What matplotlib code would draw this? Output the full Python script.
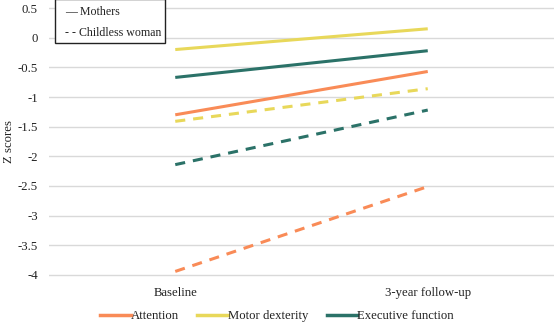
import matplotlib
matplotlib.use("Agg")
import matplotlib.pyplot as plt
from matplotlib.lines import Line2D
from matplotlib.patches import Rectangle

plt.rcParams['font.family'] = ['Liberation Serif', 'DejaVu Serif']

timepoints = ["Baseline", "3-year follow-up"]
domains = ["Attention", "Motor dexterity", "Executive function"]
colors = ["#F98B57", "#E8D85A", "#2B7268"]

mothers = {
    "Attention": [-1.30, -0.57],
    "Motor dexterity": [-0.20, 0.15],
    "Executive function": [-0.67, -0.22],
}
childless = {
    "Attention": [-3.94, -2.51],
    "Motor dexterity": [-1.41, -0.86],
    "Executive function": [-2.14, -1.22],
}

yticks = [0.5, 0, -0.5, -1, -1.5, -2, -2.5, -3, -3.5, -4]
ytick_labels = ["0.5", "0", "-0.5", "-1", "-1.5", "-2", "-2.5", "-3", "-3.5", "-4"]

FS = 9.2
TXT = '#222222'

fig = plt.figure(figsize=(5.54, 3.24), dpi=100)
ax = fig.add_axes([49 / 554, 1 - 277 / 324, 1 - 49 / 554, (277 - 6) / 324])

x = list(range(len(timepoints)))
for name, c in zip(domains, colors):
    ax.plot(x, childless[name], color=c, lw=2.2, dashes=(3.3, 2.6),
            solid_capstyle='butt', dash_capstyle='butt', zorder=3)
    ax.plot(x, mothers[name], color=c, lw=2.2, solid_capstyle='butt', zorder=4)

ax.set_xlim(-0.5, 1.5)
ax.set_ylim(-4.034, 0.534)
ax.set_yticks(yticks)
ax.set_yticklabels(ytick_labels)
ax.set_xticks(x)
ax.set_xticklabels(timepoints)
ax.tick_params(axis='both', length=0, labelsize=FS, colors=TXT)
ax.tick_params(axis='y', pad=8)
ax.tick_params(axis='x', pad=7)
ax.grid(axis='y', color='#d9d9d9', lw=1)
ax.set_axisbelow(True)
for s in ax.spines.values():
    s.set_visible(False)
ax.set_ylabel("Z scores", fontsize=FS, color=TXT, labelpad=2)

handles = [Line2D([], [], color=c, lw=2.5) for c in colors]
fig.legend(handles, domains, loc='lower center', bbox_to_anchor=(0.5, -0.03),
           ncol=3, frameon=False, fontsize=FS, handlelength=2.4,
           handletextpad=0.0, columnspacing=1.45, labelcolor=TXT)

# group key in the top-left corner
fig.patches.append(Rectangle((55 / 554, 1 - 43 / 324), 110 / 554, 44 / 324,
                             transform=fig.transFigure, fill=True,
                             facecolor='white', edgecolor='#222222', lw=1.0,
                             zorder=5))
fig.text(65 / 554, 1 - 12 / 324, "— Mothers", fontsize=8.6, va='center',
         color=TXT, zorder=6)
fig.text(65 / 554, 1 - 33 / 324, "- - Childless woman", fontsize=8.6,
         va='center', color=TXT, zorder=6)

fig.savefig("out.png", dpi=100)
